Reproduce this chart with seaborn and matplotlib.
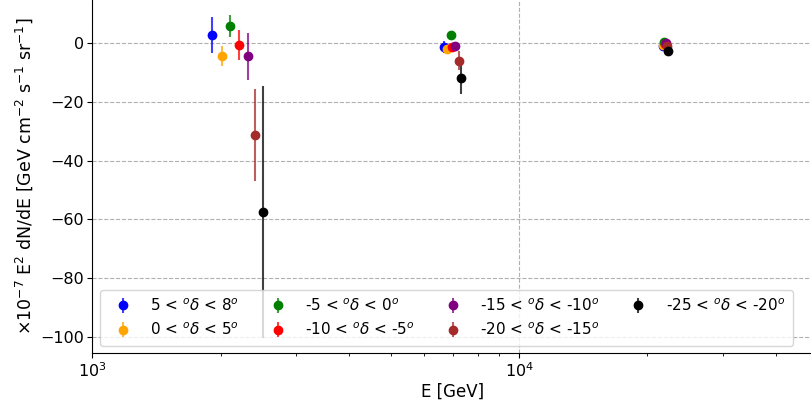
import matplotlib
matplotlib.use("Agg")
import matplotlib.pyplot as plt
import seaborn as sns

sns.set_style("ticks", {"axes.edgecolor": "black", "xtick.color": "black",
                        "ytick.color": "black", "text.color": "black",
                        "axes.labelcolor": "black"})
plt.rcParams["font.family"] = ["DejaVu Sans"]

# ── declination bands ────────────────────────────────────────────────────────
labels = [r"5 < $^o\delta$ < 8$^o$", r"0 < $^o\delta$ < 5$^o$",
          r"-5 < $^o\delta$ < 0$^o$", r"-10 < $^o\delta$ < -5$^o$",
          r"-15 < $^o\delta$ < -10$^o$", r"-20 < $^o\delta$ < -15$^o$",
          r"-25 < $^o\delta$ < -20$^o$"]
colors = ["blue", "orange", "green", "red", "purple", "brown", "black"]

# ── energy bin 1 (~2 TeV) ────────────────────────────────────────────────────
E_lo    = [1905, 2012, 2105, 2205, 2311, 2409, 2506]
flux_lo = [2.9, -4.4, 6.0, -0.6, -4.4, -31.4, -57.5]
err_lo  = [6.2, 3.5, 3.7, 5.0, 8.0, 15.7, 42.9]

# ── energy bin 2 (~7 TeV) ────────────────────────────────────────────────────
E_mid    = [6678, 6776, 6914, 6962, 7076, 7231, 7297]
flux_mid = [-1.3, -1.9, 2.8, -1.2, -0.8, -5.9, -11.9]
err_mid  = [2.0, 1.2, 1.0, 1.2, 1.2, 3.2, 5.5]

# ── energy bin 3 (~22 TeV) ───────────────────────────────────────────────────
E_hi    = [21700, 21800, 21900, 22000, 22100, 22200, 22400]
flux_hi = [-0.9, -0.5, 0.4, -0.2, 0.0, -0.8, -2.7]
err_hi  = [0.8, 0.6, 0.6, 0.6, 0.6, 0.8, 1.0]

fig = plt.figure(figsize=(8.12, 4.08), dpi=100)
ax = fig.add_axes([0.1137, 0.134, 0.8863, 0.866])

for i in range(len(labels)):
    cont = ax.errorbar([E_lo[i], E_mid[i], E_hi[i]],
                       [flux_lo[i], flux_mid[i], flux_hi[i]],
                       yerr=[err_lo[i], err_mid[i], err_hi[i]],
                       fmt="o", color=colors[i], ms=6, lw=1.5, label=labels[i])
    for bar in cont[2]:
        bar.set_alpha(0.75)

ax.set_xscale("log")
ax.set_xlim(1000, 48600)
ax.set_ylim(-105.7, 14.76)
ax.set_yticks([-100, -80, -60, -40, -20, 0])
ax.grid(True, which="major", linestyle="--", color="#b0b0b0", lw=0.8)
ax.tick_params(labelsize=11.5, pad=2.5)
ax.set_xlabel("E [GeV]", fontsize=12, labelpad=2)
ax.set_ylabel(r"$\times 10^{-7}$ E$^2$ dN/dE [GeV cm$^{-2}$ s$^{-1}$ sr$^{-1}$]",
              fontsize=12.5)
sns.despine(ax=ax)
ax.legend(loc="lower left", ncol=4, fontsize=11, columnspacing=1.5,
          borderpad=0.5)

fig.savefig("out.png", dpi=100)
